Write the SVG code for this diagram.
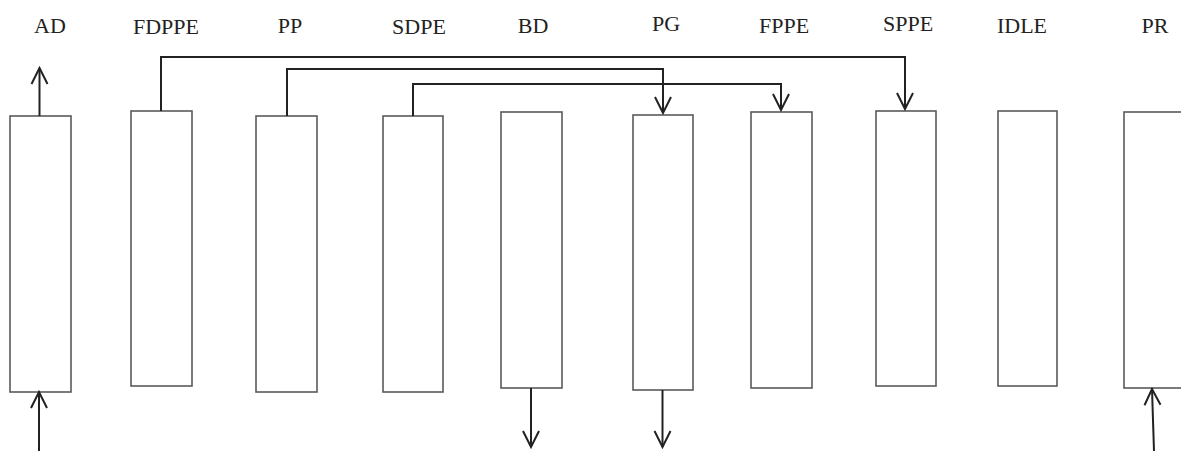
<svg xmlns="http://www.w3.org/2000/svg" width="1181" height="451" viewBox="0 0 1181 451">
<style>
.box{fill:#fff;stroke:#5a5a5a;stroke-width:1.6}
.lbl{font-family:"Liberation Serif","Times New Roman",serif;font-size:22px;fill:#222;text-anchor:middle}
.c{fill:none;stroke:#222;stroke-width:2}
</style>
<defs>
<marker id="ah" viewBox="-18 -10 20 20" markerWidth="20" markerHeight="20" refX="0" refY="0" markerUnits="userSpaceOnUse" orient="auto">
<path d="M-16,-8 L0,0 L-16,8" fill="none" stroke="#222" stroke-width="2"/>
</marker>
</defs>
<rect width="1181" height="451" fill="#fff"/>
<g id="AD"><rect class="box" x="10" y="116" width="61" height="276"/><text class="lbl" x="50" y="33">AD</text></g>
<g id="FDPPE"><rect class="box" x="131" y="111" width="61" height="275"/><text class="lbl" x="166" y="34">FDPPE</text></g>
<g id="PP"><rect class="box" x="256" y="116" width="61" height="276"/><text class="lbl" x="290" y="33">PP</text></g>
<g id="SDPE"><rect class="box" x="383" y="116" width="60" height="276"/><text class="lbl" x="419" y="34">SDPE</text></g>
<g id="BD"><rect class="box" x="501" y="112" width="61" height="276"/><text class="lbl" x="533" y="33">BD</text></g>
<g id="PG"><rect class="box" x="633" y="115" width="60" height="275"/><text class="lbl" x="666" y="31">PG</text></g>
<g id="FPPE"><rect class="box" x="751" y="112" width="61" height="276"/><text class="lbl" x="784" y="33">FPPE</text></g>
<g id="SPPE"><rect class="box" x="876" y="111" width="60" height="275"/><text class="lbl" x="908" y="31">SPPE</text></g>
<g id="IDLE"><rect class="box" x="998" y="111" width="59" height="275"/><text class="lbl" x="1022" y="33">IDLE</text></g>
<g id="PR"><rect class="box" x="1124" y="112" width="70" height="276"/><text class="lbl" x="1155" y="33">PR</text></g>
<g id="connectors">
<path class="c" d="M161,111 V57 H905 V109" marker-end="url(#ah)"/>
<path class="c" d="M287,116 V69 H663 V113" marker-end="url(#ah)"/>
<path class="c" d="M413,116 V84 H781 V110" marker-end="url(#ah)"/>
<path class="c" d="M39.5,116 V68" marker-end="url(#ah)"/>
<path class="c" d="M39,451 V392" marker-end="url(#ah)"/>
<path class="c" d="M531,388 V447" marker-end="url(#ah)"/>
<path class="c" d="M662.5,390 V447" marker-end="url(#ah)"/>
<path class="c" d="M1154,451 L1152,389" marker-end="url(#ah)"/>
</g>
</svg>
